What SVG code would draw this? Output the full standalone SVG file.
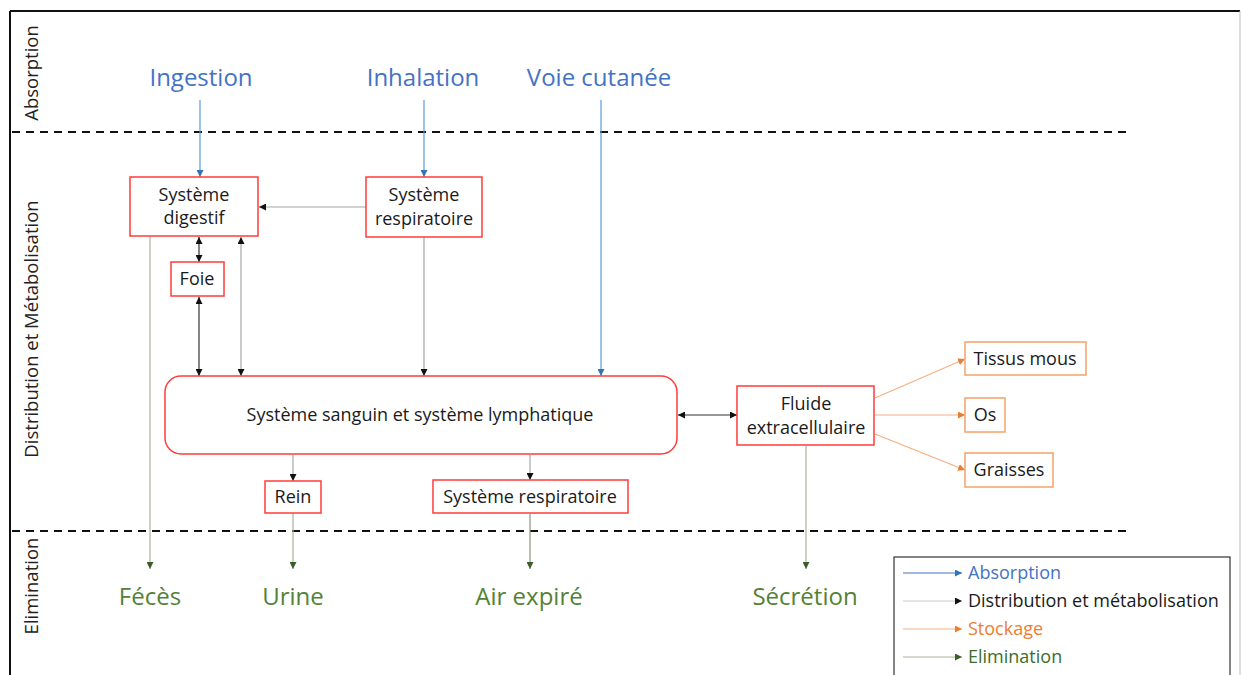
<svg xmlns="http://www.w3.org/2000/svg" width="1241" height="675" viewBox="0 0 1241 675">
<defs>
<marker id="mBlue" viewBox="0 0 10 10" refX="10" refY="5" markerWidth="7" markerHeight="7" markerUnits="userSpaceOnUse" orient="auto"><path d="M0,0L10,5L0,10z" fill="#2E75B6"/></marker>
<marker id="mBlack" viewBox="0 0 10 10" refX="10" refY="5" markerWidth="7" markerHeight="7" markerUnits="userSpaceOnUse" orient="auto-start-reverse"><path d="M0,0L10,5L0,10z" fill="#111"/></marker>
<marker id="mOrange" viewBox="0 0 10 10" refX="10" refY="5" markerWidth="7" markerHeight="7" markerUnits="userSpaceOnUse" orient="auto"><path d="M0,0L10,5L0,10z" fill="#ED7D31"/></marker>
<marker id="mGreen" viewBox="0 0 10 10" refX="10" refY="5" markerWidth="7" markerHeight="7" markerUnits="userSpaceOnUse" orient="auto"><path d="M0,0L10,5L0,10z" fill="#3B5E2B"/></marker>
</defs>
<style>
text{font-family:"Open Sans","Liberation Sans",sans-serif;}
.node{fill:#fff;stroke:#FF3B3B;stroke-width:1.5;}
.store{fill:#fff;stroke:#F4A36A;stroke-width:1.5;}
.t{font-size:18px;fill:#1a1a1a;text-anchor:middle;}
.st{font-size:18px;fill:#1a1a1a;text-anchor:middle;}
.side{font-size:18.5px;fill:#222;text-anchor:middle;}
.abs{font-size:24px;fill:#4472C4;text-anchor:middle;}
.eli{font-size:24px;fill:#548235;text-anchor:middle;}
.blue{stroke:#5B9BD5;stroke-width:1.2;fill:none;marker-end:url(#mBlue);}
.dist{stroke:#A6A6A6;stroke-width:1.2;fill:none;marker-end:url(#mBlack);}
.bi{stroke:#333;stroke-width:1.2;fill:none;marker-end:url(#mBlack);marker-start:url(#mBlack);}
.bil{stroke:#A6A6A6;stroke-width:1.2;fill:none;marker-end:url(#mBlack);marker-start:url(#mBlack);}
.orange{stroke:#F4B183;stroke-width:1.2;fill:none;marker-end:url(#mOrange);}
.green{stroke:#A9B39C;stroke-width:1.2;fill:none;marker-end:url(#mGreen);}
.dash{stroke:#111;stroke-width:2;stroke-dasharray:8,6;}
.lt{font-size:18px;}
</style>
<rect x="0" y="0" width="1241" height="675" fill="#fff"/>
<g id="frame">
<line x1="10" y1="11" x2="1240" y2="11" stroke="#111" stroke-width="2"/>
<line x1="10" y1="11" x2="10" y2="675" stroke="#111" stroke-width="2"/>
<line x1="1240" y1="11" x2="1240" y2="675" stroke="#bbb" stroke-width="1"/>
<line class="dash" x1="12" y1="132" x2="1128" y2="132"/>
<line class="dash" x1="12" y1="531" x2="1128" y2="531"/>
<text class="side" transform="translate(38,73) rotate(-90)">Absorption</text>
<text class="side" transform="translate(38,329) rotate(-90)">Distribution et Métabolisation</text>
<text class="side" transform="translate(38,586) rotate(-90)">Elimination</text>
</g>
<g id="labels-absorption">
<text class="abs" x="201" y="86">Ingestion</text>
<text class="abs" x="423" y="86">Inhalation</text>
<text class="abs" x="599" y="86">Voie cutanée</text>
</g>
<g id="labels-elimination">
<text class="eli" x="150" y="605">Fécès</text>
<text class="eli" x="293" y="605">Urine</text>
<text class="eli" x="529" y="605">Air expiré</text>
<text class="eli" x="805" y="605">Sécrétion</text>
</g>
<g id="connectors">
<line class="blue" x1="200" y1="100" x2="200" y2="177"/>
<line class="blue" x1="424" y1="100" x2="424" y2="177"/>
<line class="blue" x1="601" y1="100" x2="601" y2="376"/>
<line class="dist" x1="366" y1="207" x2="259" y2="207"/>
<line class="dist" x1="424" y1="237" x2="424" y2="376"/>
<line class="bi" x1="199" y1="237" x2="199" y2="262"/>
<line class="bi" x1="199" y1="297" x2="199" y2="376"/>
<line class="bil" x1="241" y1="376" x2="241" y2="237"/>
<line class="bi" x1="678" y1="415" x2="737" y2="415"/>
<line class="dist" x1="293" y1="455" x2="293" y2="481"/>
<line class="dist" x1="530" y1="455" x2="530" y2="480"/>
<line class="orange" x1="875" y1="398" x2="965" y2="359"/>
<line class="orange" x1="875" y1="415" x2="965" y2="415"/>
<line class="orange" x1="875" y1="434" x2="965" y2="470"/>
<line class="green" x1="150" y1="237" x2="150" y2="569"/>
<line class="green" x1="293" y1="513" x2="293" y2="569"/>
<line class="green" x1="530" y1="514" x2="530" y2="569" style="stroke:#8A9680"/>
<line class="green" x1="806" y1="446" x2="806" y2="569"/>
</g>
<g id="digestif"><rect class="node" x="130" y="177" width="128" height="59"/><text class="t" x="194" y="201">Système</text><text class="t" x="194" y="224">digestif</text></g>
<g id="respiratoire"><rect class="node" x="366" y="177" width="116" height="60"/><text class="t" x="424" y="201">Système</text><text class="t" x="424" y="225">respiratoire</text></g>
<g id="foie"><rect class="node" x="171" y="262" width="53" height="34"/><text class="t" x="197" y="285">Foie</text></g>
<g id="sanguin"><rect class="node" x="165" y="376" width="512" height="78" rx="16"/><text class="t" x="420" y="421">Système sanguin et système lymphatique</text></g>
<g id="fluide"><rect class="node" x="737" y="386" width="137" height="59"/><text class="t" x="806" y="410">Fluide</text><text class="t" x="806" y="434">extracellulaire</text></g>
<g id="tissus"><rect class="store" x="965" y="342" width="121" height="33"/><text class="st" x="1025" y="365">Tissus mous</text></g>
<g id="os"><rect class="store" x="965" y="398" width="40" height="34"/><text class="st" x="985" y="421">Os</text></g>
<g id="graisses"><rect class="store" x="965" y="453" width="88" height="34"/><text class="st" x="1009" y="476">Graisses</text></g>
<g id="rein"><rect class="node" x="265" y="481" width="56" height="32"/><text class="t" x="293" y="503">Rein</text></g>
<g id="respiratoire2"><rect class="node" x="433" y="480" width="195" height="33"/><text class="t" x="530" y="503">Système respiratoire</text></g>
<g id="legend">
<rect x="894" y="557" width="336" height="130" fill="#fff" stroke="#333" stroke-width="1.2"/>
<line class="blue" x1="903" y1="573" x2="962" y2="573" style="stroke:#4472C4"/>
<text class="lt" x="968" y="579" fill="#4472C4">Absorption</text>
<line class="dist" x1="903" y1="601" x2="962" y2="601" style="stroke:#ccc"/>
<text class="lt" x="968" y="607" fill="#1a1a1a">Distribution et métabolisation</text>
<line class="orange" x1="903" y1="629" x2="962" y2="629"/>
<text class="lt" x="968" y="635" fill="#ED7D31">Stockage</text>
<line class="green" x1="903" y1="657" x2="962" y2="657"/>
<text class="lt" x="968" y="663" fill="#3B6E2B">Elimination</text>
</g>
</svg>
